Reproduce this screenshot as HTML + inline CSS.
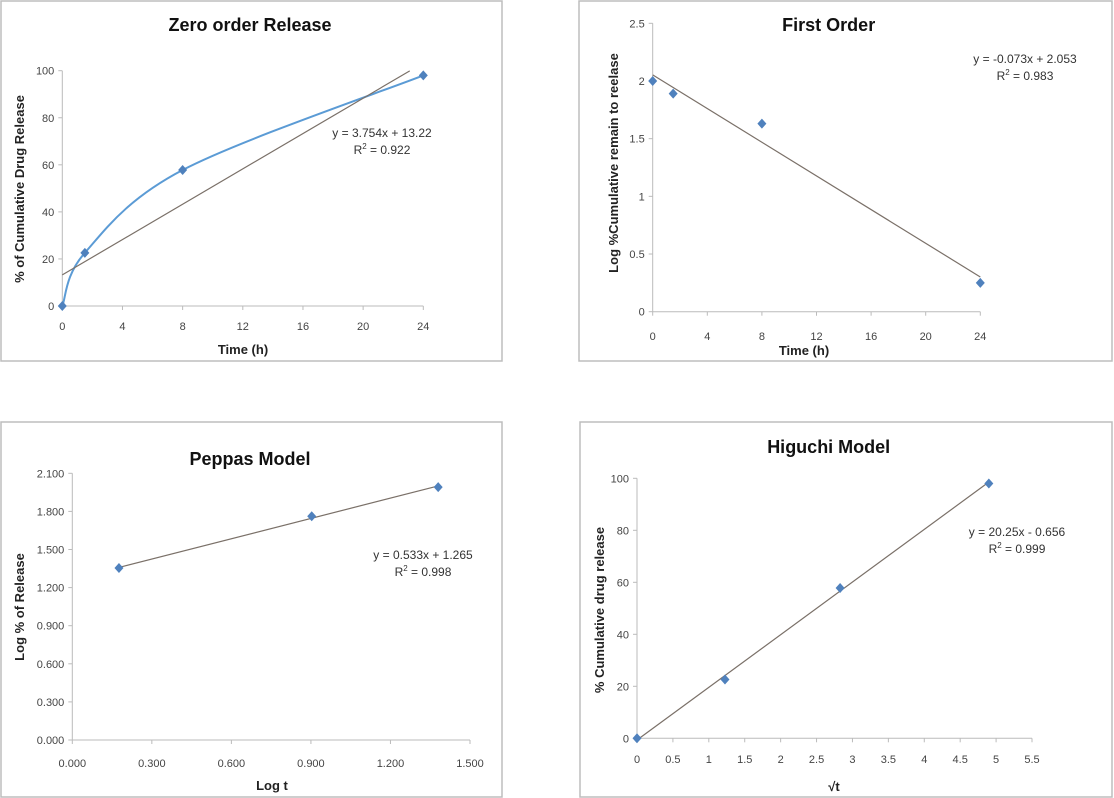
<!DOCTYPE html>
<html><head><meta charset="utf-8"><style>
body{margin:0;background:#fff;width:1114px;height:798px;overflow:hidden}
svg{display:block;font-family:"Liberation Sans",sans-serif}
</style></head><body>
<svg id="c" width="1114" height="798"></svg>
<script>
const zeroT=[0,1.5,8,24];
const zeroY=[0,22.6,57.8,98];
const firstT=[0,1.5,8,24];
const firstY=[2.0,1.89,1.63,0.25];
const peppasX=[0.176,0.903,1.380];
const peppasY=[1.354,1.762,1.991];
const higX=[0,1.225,2.828,4.899];
const higY=[0,22.6,57.8,98];
const zeroXTicks=[0,4,8,12,16,20,24];
const zeroYTicks=[0,20,40,60,80,100];
const firstYTicks=[0,0.5,1,1.5,2,2.5];
const peppasXTicks=[0,0.3,0.6,0.9,1.2,1.5];
const peppasYTicks=[0,0.3,0.6,0.9,1.2,1.5,1.8,2.1];
const higXTicks=[0,0.5,1,1.5,2,2.5,3,3.5,4,4.5,5,5.5];
const higYTicks=[0,20,40,60,80,100];
const trendZero=[3.754,13.22];
const trendFirst=[-0.073,2.053];
const trendPeppas=[0.533,1.265];
const trendHig=[20.25,-0.656];

const NS='http://www.w3.org/2000/svg';
const svg=document.getElementById('c');
function mk(tag,at,parent,txt){const e=document.createElementNS(NS,tag);for(const k in at)e.setAttribute(k,at[k]);if(txt!==undefined)e.textContent=txt;(parent||svg).appendChild(e);return e;}

function panel(o){
  const g=mk('g',{});
  
  
  const fr=mk('rect',{x:o.frame[0],y:o.frame[1],width:o.frame[2]-o.frame[0],height:o.frame[3]-o.frame[1],fill:'#fff',stroke:'#bdbdbd','stroke-width':1.5},g);
  
  
  const [px0,px1]=o.px,[py0,py1]=o.py,[xmin,xmax]=o.xd,[ymin,ymax]=o.yd;
  const sx=v=>px0+(v-xmin)/(xmax-xmin)*(px1-px0);
  const sy=v=>py0+(v-ymin)/(ymax-ymin)*(py1-py0);
  // axes
  const ax=mk('line',{x1:px0,y1:py0,x2:sx(xmax),y2:py0,stroke:'#bbb','stroke-width':1},g);
  
  
  const ay=mk('line',{x1:px0,y1:py0,x2:px0,y2:sy(ymax),stroke:'#bbb','stroke-width':1},g);
  
  
  o.xt.forEach(v=>{
    mk('line',{x1:sx(v),y1:py0,x2:sx(v),y2:py0+4,stroke:'#bbb'},g);
    const t=mk('text',{x:sx(v),y:o.xtY,'text-anchor':'middle','font-size':11,fill:'#444'},g,o.xf(v));
    
    
  });
  o.yt.forEach(v=>{
    mk('line',{x1:px0-4,y1:sy(v),x2:px0,y2:sy(v),stroke:'#bbb'},g);
    const t=mk('text',{x:px0-8,y:sy(v)+4,'text-anchor':'end','font-size':11,fill:'#444'},g,o.yf(v));
    
    
  });
  const ti=mk('text',{x:o.title[1],y:o.title[2],'text-anchor':'middle','font-size':18,'font-weight':'bold',fill:'#111'},g,o.title[0]);
  
  
  const xl=mk('text',{x:o.xl[1],y:o.xl[2],'text-anchor':'middle','font-size':13,'font-weight':'bold',fill:'#222'},g,o.xl[0]);
  
  
  const yl=mk('text',{x:0,y:0,'text-anchor':'middle','font-size':13,'font-weight':'bold',fill:'#222',transform:`translate(${o.yl[1]},${o.yl[2]}) rotate(-90)`},g,o.yl[0]);
  
  
  // smooth line
  if(o.smooth){
    const P=o.xs.map((x,i)=>[sx(x),sy(o.ys[i])]);
    let d=`M${P[0][0]},${P[0][1]}`;
    for(let i=0;i<P.length-1;i++){
      const p0=P[Math.max(0,i-1)],p1=P[i],p2=P[i+1],p3=P[Math.min(P.length-1,i+2)];
      const c1=[p1[0]+(p2[0]-p0[0])/6,p1[1]+(p2[1]-p0[1])/6];
      const c2=[p2[0]-(p3[0]-p1[0])/6,p2[1]-(p3[1]-p1[1])/6];
      d+=` C${c1[0]},${c1[1]} ${c2[0]},${c2[1]} ${p2[0]},${p2[1]}`;
    }
    const sm=mk('path',{d,fill:'none',stroke:'#5b9bd5','stroke-width':2},g);
    
    
  }
  // trend
  const [m,b]=o.trend,[t0,t1]=o.tr;
  const tl=mk('line',{x1:sx(t0),y1:sy(m*t0+b),x2:sx(t1),y2:sy(m*t1+b),stroke:'#7a7068','stroke-width':1.2},g);
  
  
  o.xs.forEach((x,i)=>{
    const cx=sx(x),cy=sy(o.ys[i]);
    const p=mk('polygon',{points:`${cx},${cy-5} ${cx+4.5},${cy} ${cx},${cy+5} ${cx-4.5},${cy}`,fill:'#4f81bd'},g);
    
    
  });
  const e1=mk('text',{x:o.eq[0],y:o.eq[1],'text-anchor':'middle','font-size':12,fill:'#333'},g,o.eqT);
  
  
  const e2=mk('text',{x:o.eq[0],y:o.eq[1]+17,'text-anchor':'middle','font-size':12,fill:'#333'},g);
  
  
  e2.innerHTML='R<tspan dy="-5" font-size="8">2</tspan><tspan dy="5"> = '+o.r2+'</tspan>';
}
const f3=v=>v.toFixed(3), fi=v=>String(v);
panel({name:'zero-order-chart',frame:[1,1,502,361],px:[62.3,423.3],py:[306,70.7],xd:[0,24],yd:[0,100],
 xt:zeroXTicks,yt:zeroYTicks,xf:fi,yf:fi,xtY:330,title:['Zero order Release',250,31],xl:['Time (h)',243,354],yl:['% of Cumulative Drug Release',24,189],
 xs:zeroT,ys:zeroY,smooth:true,trend:trendZero,tr:[0,23.1],eq:[382,137],eqT:'y = 3.754x + 13.22',r2:'0.922'});
panel({name:'first-order-chart',frame:[579,1,1112,361],px:[652.7,980.3],py:[311.7,23.3],xd:[0,24],yd:[0,2.5],
 xt:zeroXTicks,yt:firstYTicks,xf:fi,yf:fi,xtY:340,title:['First Order',828.7,31],xl:['Time (h)',804,355],yl:['Log %Cumulative remain to reelase',618,163],
 xs:firstT,ys:firstY,smooth:false,trend:trendFirst,tr:[0,24],eq:[1025,63],eqT:'y = -0.073x + 2.053',r2:'0.983'});
panel({name:'peppas-model-chart',frame:[1,422,502,797],px:[72.3,470],py:[740,473.3],xd:[0,1.5],yd:[0,2.1],
 xt:peppasXTicks,yt:peppasYTicks,xf:f3,yf:f3,xtY:767,title:['Peppas Model',250,465],xl:['Log t',272,790],yl:['Log % of Release',24,607],
 xs:peppasX,ys:peppasY,smooth:false,trend:trendPeppas,tr:[0.176,1.38],eq:[423,559],eqT:'y = 0.533x + 1.265',r2:'0.998'});
panel({name:'higuchi-model-chart',frame:[580,422,1112,797],px:[637,1032],py:[738.3,478.3],xd:[0,5.5],yd:[0,100],
 xt:higXTicks,yt:higYTicks,xf:fi,yf:fi,xtY:763,title:['Higuchi Model',828.7,453],xl:['√t',834,791],yl:['% Cumulative drug release',604,610],
 xs:higX,ys:higY,smooth:false,trend:trendHig,tr:[0,4.9],eq:[1017,536],eqT:'y = 20.25x - 0.656',r2:'0.999'});
</script>
</body></html>
